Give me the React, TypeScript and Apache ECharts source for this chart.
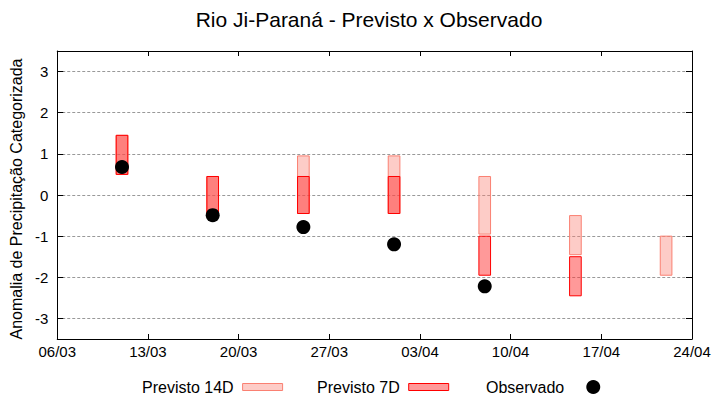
import React, { useEffect, useRef } from "react";
import * as echarts from "echarts";

const TITLE = "Rio Ji-Paraná - Previsto x Observado";
const Y_NAME = "Anomalia de Precipitação Categorizada";
const X_TICK_LABELS = ["06/03", "13/03", "20/03", "27/03", "03/04", "10/04", "17/04", "24/04"];

const DATES_14D = ["11/03", "18/03", "25/03", "01/04", "08/04", "15/04", "22/04"];
const LOW_14D = [0.5, -0.45, -0.45, -0.45, -0.95, -1.45, -1.95];
const HIGH_14D = [1.45, 0.45, 0.95, 0.95, 0.45, -0.5, -1.0];

const DATES_7D = ["11/03", "18/03", "25/03", "01/04", "08/04", "15/04"];
const LOW_7D = [0.5, -0.45, -0.45, -0.45, -1.95, -2.45];
const HIGH_7D = [1.45, 0.45, 0.45, 0.45, -1.0, -1.5];

const OBS_DATES = ["11/03", "18/03", "25/03", "01/04", "08/04"];
const OBS_VALUES = [0.68, -0.49, -0.78, -1.2, -2.22];

const FONT = "'Liberation Sans', Arial, sans-serif";
const HALF = 0.45;

function dayOffset(s: string): number {
  const [d, m] = s.split("/").map(Number);
  return (Date.UTC(2024, m - 1, d) - Date.UTC(2024, 2, 6)) / 86400000;
}

const C14_FILL = "rgba(250,128,114,0.4)";
const C14_STROKE = "#fa8072";
const C7_FILL = "rgba(255,51,51,0.5)";
const C7_STROKE = "#ff0000";

function boxSeries(name: string, dates: string[], low: number[], high: number[], fill: string, stroke: string, z: number) {
  return {
    type: "custom",
    name,
    z,
    xAxisIndex: 0,
    yAxisIndex: 0,
    itemStyle: { color: fill, borderColor: stroke, borderWidth: 1 },
    encode: { x: 0, y: [1, 2] },
    data: dates.map((d, i) => [dayOffset(d), low[i], high[i]]),
    renderItem: (params: any, api: any) => {
      const x = api.value(0);
      const lo = api.value(1);
      const hi = api.value(2);
      const p1 = api.coord([x - HALF, hi]);
      const p2 = api.coord([x + HALF, lo]);
      return {
        type: "rect",
        shape: { x: p1[0], y: p1[1], width: p2[0] - p1[0], height: p2[1] - p1[1] },
        style: { fill, stroke, lineWidth: 1 },
      };
    },
  };
}

export default function App() {
  const ref = useRef<HTMLDivElement>(null);
  useEffect(() => {
    if (!ref.current) return;
    const chart = echarts.init(ref.current, null, { renderer: "svg" });
    const xCommon = {
      type: "value",
      min: 0,
      max: 49,
      interval: 7,
      axisLine: { show: true, onZero: false, lineStyle: { color: "#000", width: 1 } },
      axisTick: { show: true, inside: true, length: 5, lineStyle: { color: "#000" } },
      splitLine: { show: false },
    };
    const yCommon = {
      type: "value",
      min: -3.5,
      max: 3.5,
      splitNumber: 7,
      axisLine: { show: true, onZero: false, lineStyle: { color: "#000", width: 1 } },
      axisTick: { show: true, inside: true, length: 6, lineStyle: { color: "#000" } },
    };
    const option: any = {
      animation: false,
      backgroundColor: "#fff",
      textStyle: { fontFamily: FONT },
      title: {
        text: TITLE,
        left: 369,
        textAlign: "center",
        top: 9,
        padding: 0,
        textStyle: { fontFamily: FONT, fontSize: 21, fontWeight: "normal", color: "#000" },
      },
      grid: { left: 55, right: 28, top: 51, bottom: 61, containLabel: false },
      xAxis: [
        {
          ...xCommon,
          position: "bottom",
          axisLabel: {
            show: true,
            margin: 5,
            color: "#000",
            fontSize: 15,
            fontFamily: FONT,
            formatter: (v: number) => X_TICK_LABELS[Math.round(v / 7)] ?? "",
          },
        },
        { ...xCommon, position: "top", axisLabel: { show: false } },
      ],
      yAxis: [
        {
          ...yCommon,
          position: "left",
          name: Y_NAME,
          nameLocation: "middle",
          nameGap: 21,
          nameTextStyle: { fontSize: 16, fontFamily: FONT, color: "#000", padding: [0, 8, 0, 0] },
          axisLabel: {
            show: true,
            margin: 9,
            color: "#000",
            fontSize: 15,
            fontFamily: FONT,
            showMinLabel: false,
            showMaxLabel: false,
          },
          splitLine: { show: true, lineStyle: { color: "#999", type: [3, 2], width: 1 } },
        },
        { ...yCommon, position: "right", axisLabel: { show: false }, splitLine: { show: false } },
      ],
      legend: [
        {
          left: 142,
          top: 379,
          align: "right",
          selectedMode: false,
          itemWidth: 40,
          itemHeight: 7,
          itemGap: 0,
          padding: 0,
          textStyle: { fontSize: 16, fontFamily: FONT, color: "#000", padding: [0, 4, 0, 0] },
          data: [
            { name: "Previsto 14D", icon: "rect", itemStyle: { color: C14_FILL, borderColor: C14_STROKE, borderWidth: 1 } },
          ],
        },
        {
          left: 317,
          top: 379,
          align: "right",
          selectedMode: false,
          itemWidth: 40,
          itemHeight: 7,
          itemGap: 0,
          padding: 0,
          textStyle: { fontSize: 16, fontFamily: FONT, color: "#000", padding: [0, 4, 0, 0] },
          data: [
            { name: "Previsto 7D", icon: "rect", itemStyle: { color: C7_FILL, borderColor: C7_STROKE, borderWidth: 1 } },
          ],
        },
        {
          left: 486,
          top: 379,
          align: "right",
          selectedMode: false,
          itemWidth: 40,
          itemHeight: 14,
          itemGap: 0,
          padding: 0,
          textStyle: { fontSize: 16, fontFamily: FONT, color: "#000", padding: [0, 4, 0, 0] },
          data: [{ name: "Observado", icon: "circle", itemStyle: { color: "#000", opacity: 1 } }],
        },
      ],
      series: [
        boxSeries("Previsto 14D", DATES_14D, LOW_14D, HIGH_14D, C14_FILL, C14_STROKE, 2),
        boxSeries("Previsto 7D", DATES_7D, LOW_7D, HIGH_7D, C7_FILL, C7_STROKE, 3),
        {
          type: "scatter",
          name: "Observado",
          z: 4,
          xAxisIndex: 0,
          yAxisIndex: 0,
          symbol: "circle",
          symbolSize: 14,
          itemStyle: { color: "#000", opacity: 1 },
          emphasis: { disabled: true },
          data: OBS_DATES.map((d, i) => [dayOffset(d), OBS_VALUES[i]]),
        },
      ],
    };
    chart.setOption(option);
    return () => chart.dispose();
  }, []);
  return <div ref={ref} style={{ width: 720, height: 400, position: "absolute", left: 0, top: 0 }} />;
}
